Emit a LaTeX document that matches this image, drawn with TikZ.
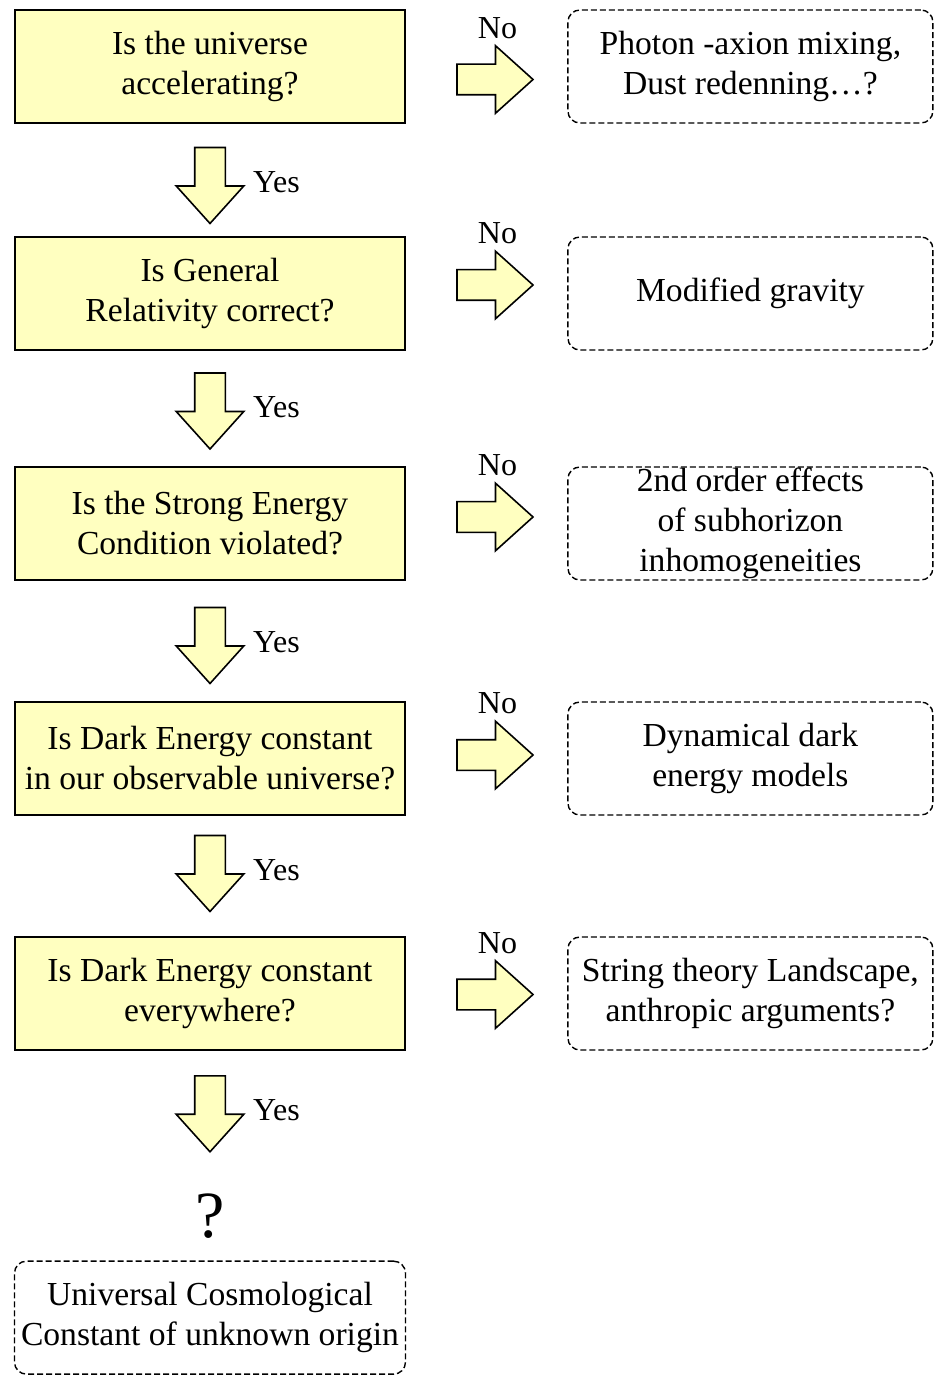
\documentclass[tikz,border=0pt]{standalone}
\usepackage{fontspec}
\setmainfont{Liberation Serif}
\usetikzlibrary{shapes.arrows, positioning, calc}

\definecolor{boxyellow}{RGB}{255,255,192}

\begin{document}
\begin{tikzpicture}[
    font=\fontsize{16.8}{20}\selectfont,
    question/.style={draw, line width=1pt, fill=boxyellow, minimum width=195pt, minimum height=56.5pt, align=center, inner sep=0pt},
    answer/.style={draw, dash pattern=on 3pt off 1.5pt, line width=0.7pt, rounded corners=6pt, minimum width=182.5pt, minimum height=56.5pt, align=center, inner sep=0pt},
    fatarrow/.style={single arrow, draw, fill=boxyellow, line width=0.8pt, minimum height=38pt, inner xsep=0pt, inner ysep=7.25pt, single arrow head extend=9.25pt, single arrow tip angle=84},
    downarrow/.style={fatarrow, shape border rotate=270, inner xsep=7.25pt, inner ysep=0pt},
    tag/.style={font=\fontsize{16}{19}\selectfont}
]

    \useasboundingbox (0,0) rectangle (469pt,-692pt);

    % Questions
    \node[question] (q1) at (105pt,-33.25pt) {Is the universe\\accelerating?};
    \node[question, below=56pt of q1] (q2) {Is General\\Relativity correct?};
    \node[question, below=57.5pt of q2] (q3) {Is the Strong Energy\\Condition violated?};
    \node[question, below=60pt of q3] (q4) {Is Dark Energy constant\\in our observable universe?};
    \node[question, below=60pt of q4] (q5) {Is Dark Energy constant\\everywhere?};

    % Alternatives (No branch)
    \node[answer, right=80.6pt of q1] (o1) {Photon -axion mixing,\\Dust redenning…?};
    \node[answer, right=80.6pt of q2] (o2) {Modified gravity};
    \node[answer, right=80.6pt of q3] (o3) {2nd order effects\\of subhorizon\\inhomogeneities};
    \node[answer, right=80.6pt of q4] (o4) {Dynamical dark\\energy models};
    \node[answer, right=80.6pt of q5] (o5) {String theory Landscape,\\anthropic arguments?};

    % No arrows
    \node[fatarrow, right=25.1pt of q1, yshift=-6.5pt] (a1) {};
    \node[fatarrow, right=25.1pt of q2, yshift=4.25pt] (a2) {};
    \node[fatarrow, right=25.1pt of q3, yshift=3.25pt] (a3) {};
    \node[fatarrow, right=25.1pt of q4, yshift=1.75pt] (a4) {};
    \node[fatarrow, right=25.1pt of q5, yshift=-0.5pt] (a5) {};
    \foreach \i in {1,...,5}
        \node[tag, above=9pt of a\i, xshift=5.5pt] (n\i) {No};

    % Yes arrows
    \node[downarrow, yshift=1.5pt] (d1) at ($(q1.south)!0.5!(q2.north)$) {};
    \node[downarrow, yshift=3pt] (d2) at ($(q2.south)!0.5!(q3.north)$) {};
    \node[downarrow, yshift=2pt] (d3) at ($(q3.south)!0.5!(q4.north)$) {};
    \node[downarrow, yshift=5.5pt] (d4) at ($(q4.south)!0.5!(q5.north)$) {};
    \node[downarrow, below=12pt of q5] (d5) {};
    \foreach \i in {1,...,5}
        \node[tag, right=10pt of d\i, yshift=-2.5pt] (y\i) {Yes};

    % Final outcome
    \node[below=20pt of d5, inner sep=0pt, font=\fontsize{33}{38}\selectfont] (qm) {?};
    \node[answer, minimum width=195.5pt, below=11pt of qm] (o6) {Universal Cosmological\\Constant of unknown origin};

\end{tikzpicture}
\end{document}
